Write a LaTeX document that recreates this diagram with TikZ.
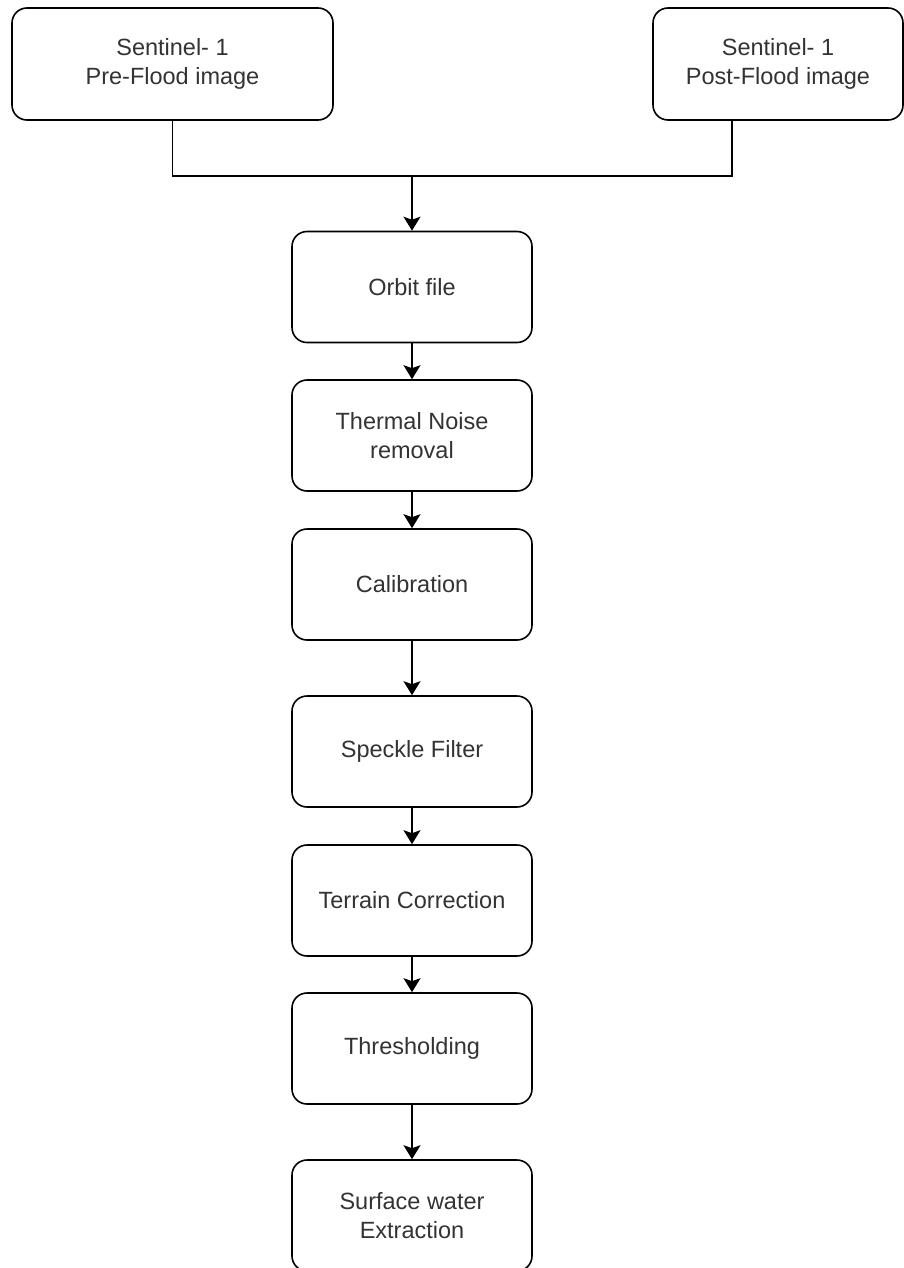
\documentclass[tikz,border=0pt]{standalone}
\usepackage{fontspec}
\setmainfont{Liberation Sans}
\usetikzlibrary{arrows.meta,positioning}
\definecolor{txtgray}{RGB}{51,51,51}
\tikzset{%
  stepbox/.style = { draw, fill=white, line width=1.6pt, rounded corners=15pt, align=center, inner sep=0pt,
                     text=txtgray, font=\fontsize{23.5}{29}\selectfont, minimum width=240pt, minimum height=111pt },
  inputbox/.style = { stepbox, minimum height=112pt },
  flow/.style = { line width=1.6pt, -{Stealth[length=14pt,width=17pt,inset=3pt]} },
  wire/.style = { line width=1.6pt }
}
\begin{document}
\begin{tikzpicture}[x=1pt,y=-1pt]

  \useasboundingbox (0,0) rectangle (904,1268);
  \clip (0,0) rectangle (904,1268);

  % Input images
  \node[inputbox, minimum width=321pt] (pre) at (172.5,64) {Sentinel- 1\\Pre-Flood image};
  \node[inputbox, minimum width=250pt] (post) at (778,64) {Sentinel- 1\\Post-Flood image};

  % Processing chain
  \foreach \nm/\yc/\txt in {orbit/287/{Orbit file}, thermal/435.5/{Thermal Noise\\removal},
      calib/584.5/{Calibration}, speckle/751.5/{Speckle Filter}, terrain/900.5/{Terrain Correction},
      thresh/1048.5/{Thresholding}, surface/1215.5/{Surface water\\Extraction}} {
    \node[stepbox] (\nm) at (412,\yc) {\txt};
  }

  % Joining the two inputs
  \coordinate (join) at (412,176);
  \draw[wire] (pre.south) |- (join) -| ([xshift=-46pt]post.south);
  \draw[flow] (join) -- (orbit);

  \foreach \a/\b in {orbit/thermal, thermal/calib, calib/speckle, speckle/terrain, terrain/thresh, thresh/surface} {
    \draw[flow] (\a) -- (\b);
  }

\end{tikzpicture}
\end{document}
